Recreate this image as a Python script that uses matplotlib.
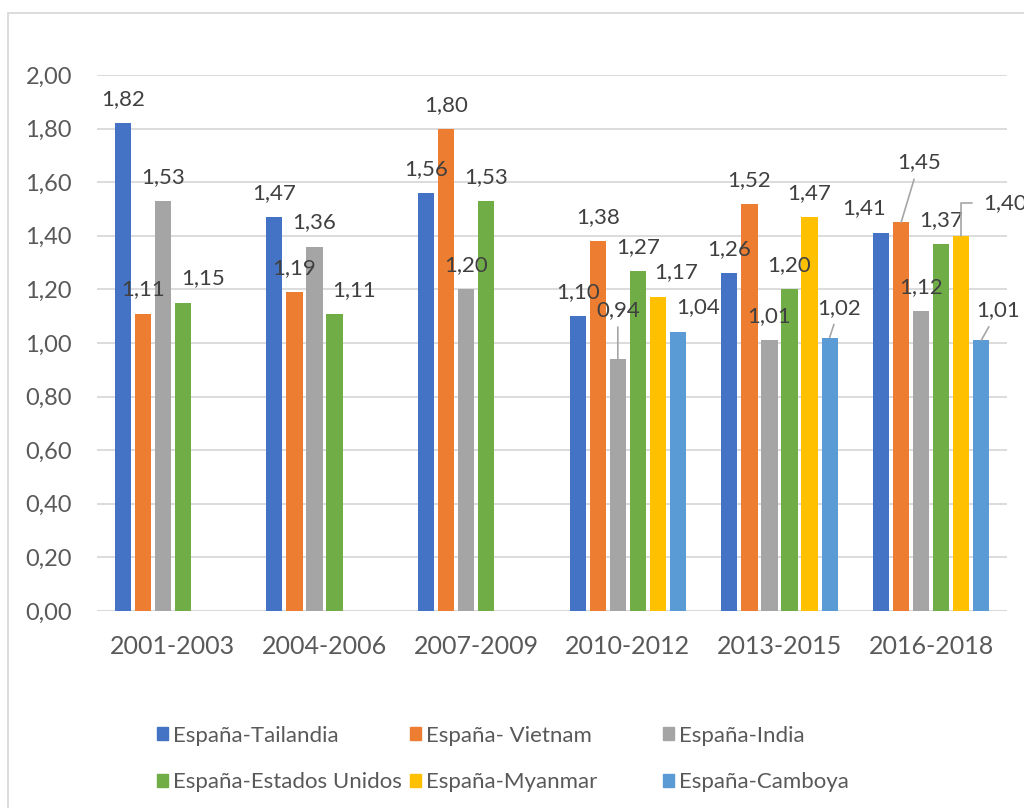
import numpy as np
import matplotlib.pyplot as plt
from matplotlib.patches import Rectangle

# Datos
periodos = ['2001-2003', '2004-2006', '2007-2009', '2010-2012', '2013-2015', '2016-2018']
series = ['España-Tailandia', 'España- Vietnam', 'España-India',
          'España-Estados Unidos', 'España-Myanmar', 'España-Camboya']
tailandia = [1.82, 1.47, 1.56, 1.10, 1.26, 1.41]
vietnam = [1.11, 1.19, 1.80, 1.38, 1.52, 1.45]
india = [1.53, 1.36, 1.20, 0.94, 1.01, 1.12]
eeuu = [1.15, 1.11, 1.53, 1.27, 1.20, 1.37]
myanmar = [np.nan, np.nan, np.nan, 1.17, 1.47, 1.40]
camboya = [np.nan, np.nan, np.nan, 1.04, 1.02, 1.01]
valores = [tailandia, vietnam, india, eeuu, myanmar, camboya]

colores = ['#4472C4', '#ED7D31', '#A5A5A5', '#70AD47', '#FFC000', '#5B9BD5']

# desplazamientos de etiquetas (px) distintos del normal, y cuáles llevan línea guía
desp = {(3, 0): (20, 25), (3, 1): (20, 23), (2, 3): (0, 49), (4, 3): (18, 25),
        (5, 3): (20, 25), (5, 4): (10, 30), (0, 5): (-17, 25), (1, 5): (18, 60),
        (4, 5): (44, 33), (5, 5): (17, 30)}
guias = {(2, 3), (5, 4), (1, 5), (5, 5)}

plt.rcParams['font.family'] = ['Lato', 'DejaVu Sans']

fig = plt.figure(figsize=(10.24, 8.08), dpi=100)
ax = fig.add_axes([97 / 1024, 1 - 611 / 808, 910 / 1024, (611 - 75) / 808])

x = np.arange(len(periodos))
paso = 0.132
ancho = 0.106
for i, (nombre, vals) in enumerate(zip(series, valores)):
    pos = x + (i - 2.5) * paso
    ax.bar(pos, vals, ancho, color=colores[i], label=nombre, zorder=2)
    for j, v in enumerate(vals):
        if np.isnan(v):
            continue
        dx, dy = desp.get((i, j), (0, 24))
        txt = f'{v:.2f}'.replace('.', ',')
        props = None
        if (i, j) in guias:
            props = dict(arrowstyle='-', color='#A6A6A6', lw=1.2, shrinkA=3, shrinkB=0)
        elif (i, j) == (4, 5):
            props = dict(arrowstyle='-', color='#A6A6A6', lw=1.2, shrinkA=6, shrinkB=0,
                         relpos=(0, 0.5), connectionstyle='angle,angleA=0,angleB=90,rad=0')
        ax.annotate(txt, (pos[j], v), xytext=(dx, dy), textcoords='offset pixels',
                    ha='center', va='center', fontsize=16, color='#404040',
                    arrowprops=props, annotation_clip=False)

ax.set_xlim(-0.5, 5.5)
ax.set_ylim(0, 2)
ax.set_yticks(np.arange(0, 2.01, 0.2))
ax.set_yticklabels([f'{v:.2f}'.replace('.', ',') for v in np.arange(0, 2.01, 0.2)])
ax.set_xticks(x)
ax.set_xticklabels(periodos)
ax.tick_params(axis='y', length=0, pad=18, labelsize=17, labelcolor='#595959')
ax.tick_params(axis='x', length=0, pad=17, labelsize=18, labelcolor='#595959')
ax.yaxis.grid(True, color='#D9D9D9', lw=1.3)
ax.set_axisbelow(True)
for s in ax.spines.values():
    s.set_visible(False)
ax.axhline(0, color='#D9D9D9', lw=1.5, zorder=1)

# marco del gráfico
fig.add_artist(Rectangle((8 / 1024, -0.1), 1.2, (808 - 13) / 808 + 0.1,
                         transform=fig.transFigure, fill=False,
                         edgecolor='#D9D9D9', lw=1.3))

# leyenda en tres columnas de igual ancho
handles = [Rectangle((0, 0), 1, 1, color=c) for c in colores]
for col, xcol in enumerate([157, 410, 663]):
    idx = [col, col + 3]
    leg = fig.legend([handles[k] for k in idx], [series[k] for k in idx],
                     loc='center left', bbox_to_anchor=(xcol / 1024, 1 - 759 / 808),
                     frameon=False, fontsize=16, labelcolor='#595959',
                     handlelength=0.5, handleheight=0.5, handletextpad=0.2,
                     labelspacing=1.2, borderpad=0, borderaxespad=0)

fig.savefig('out.png', dpi=100)
